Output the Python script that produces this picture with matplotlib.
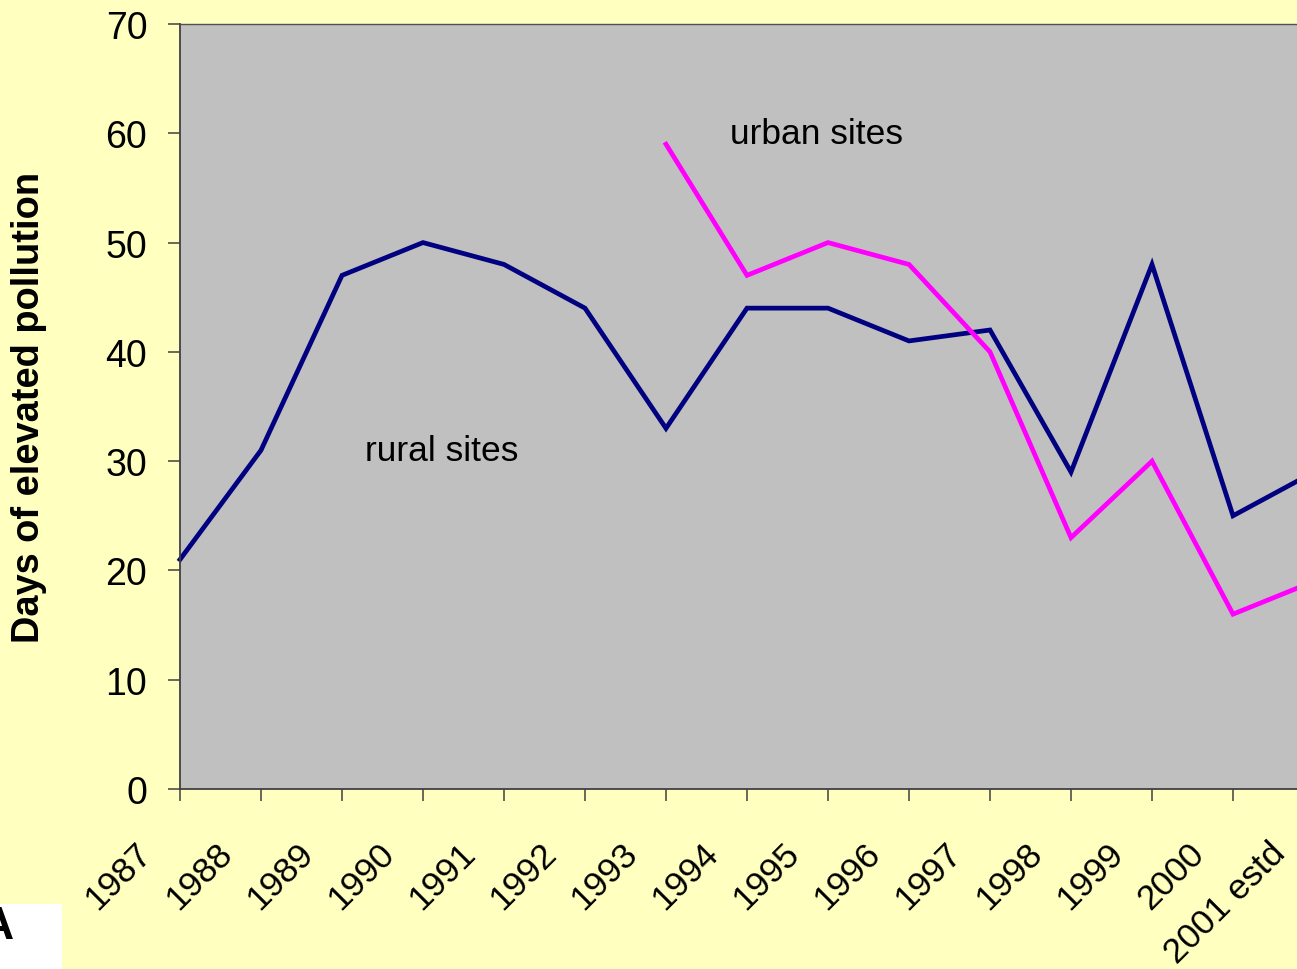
import matplotlib
matplotlib.use("Agg")
import matplotlib.pyplot as plt
import matplotlib.transforms as mtransforms
from matplotlib.patches import Rectangle

years = ["1987", "1988", "1989", "1990", "1991", "1992", "1993", "1994",
         "1995", "1996", "1997", "1998", "1999", "2000", "2001 estd"]
rural = [21, 31, 47, 50, 48, 44, 33, 44, 44, 41, 42, 29, 48, 25, 29]
urban_years = ["1993", "1994", "1995", "1996", "1997", "1998", "1999", "2000", "2001 estd"]
urban = [59, 47, 50, 48, 40, 23, 30, 16, 19]
yticks = [0, 10, 20, 30, 40, 50, 60, 70]

W, H = 1297, 970
fig = plt.figure(figsize=(W / 100, H / 100), dpi=100)
fig.patch.set_facecolor("#FFFFC0")
plt.rcParams["font.family"] = ["Liberation Sans", "DejaVu Sans"]

ax = fig.add_axes([180 / W, (H - 790) / H, 1134 / W, 765 / H])
ax.set_facecolor("#C0C0C0")

xr = list(range(len(years)))
xu = [years.index(y) for y in urban_years]
ax.plot(xr, rural, color="#000080", lw=3.4, solid_joinstyle="miter", clip_on=False)
ax.plot(xu, urban, color="#FF00FF", lw=3.4, solid_joinstyle="miter", clip_on=False)

ax.set_xlim(0, len(years) - 1)
ax.set_ylim(0, 70)
ax.set_yticks(yticks)
ax.set_yticklabels([str(v) for v in yticks], fontsize=27)
ax.set_xticks(xr)
ax.set_xticklabels([])

# rotated category labels, placed below the ticks
lab_tr = ax.get_xaxis_transform() + mtransforms.ScaledTranslation(
    -22 / 100, -47 / 100, fig.dpi_scale_trans)
for i, y in zip(xr, years):
    ax.text(i, 0, y, transform=lab_tr, fontsize=25.5, rotation=45,
            ha="right", va="top", clip_on=False)

ax.spines["right"].set_visible(False)
ax.spines["top"].set_color("#505050")
ax.spines["top"].set_linewidth(1.0)
for s in ["left", "bottom"]:
    ax.spines[s].set_color("#404040")
    ax.spines[s].set_linewidth(1.3)
ax.tick_params(axis="both", direction="out", length=8.5, width=1.1, color="#404040")
ax.tick_params(axis="y", pad=15)

ax.set_ylabel("Days of elevated pollution", fontsize=27.4, fontweight="bold")
ax.yaxis.set_label_coords((47 - 180) / 1134, 0.5)

ax.text(6.79, 60, "urban sites", fontsize=25.5, ha="left", va="center")
ax.text(2.28, 31, "rural sites", fontsize=25.5, ha="left", va="center")

fig.patches.append(Rectangle((0, 0), 62 / W, 65 / H, transform=fig.transFigure,
                             facecolor="white", edgecolor="none"))
fig.text(14 / W, (H - 927) / H, "A", fontsize=33, fontweight="bold", ha="right", va="center")

fig.savefig("out.png", dpi=100, facecolor=fig.get_facecolor())
